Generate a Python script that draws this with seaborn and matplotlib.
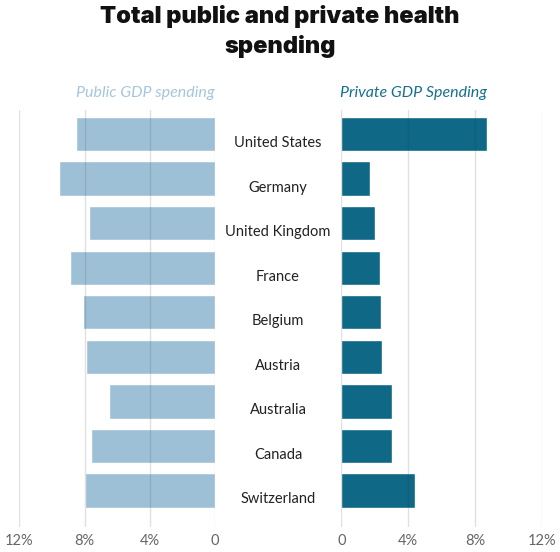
import matplotlib
matplotlib.use("Agg")
import matplotlib.pyplot as plt
import matplotlib.transforms as mtransforms
import seaborn as sns
import pandas as pd

countries = ["United States", "Germany", "United Kingdom", "France", "Belgium",
             "Austria", "Australia", "Canada", "Switzerland"]
public_gdp = [8.5, 9.6, 7.7, 8.9, 8.1, 7.9, 6.5, 7.6, 8.0]
private_gdp = [8.7, 1.7, 2.0, 2.3, 2.4, 2.45, 3.05, 3.05, 4.4]
ticks = [0, 4, 8, 12]
tick_labels = ["0", "4%", "8%", "12%"]

df = pd.DataFrame({"country": countries, "public": public_gdp, "private": private_gdp})

sns.set_theme(style="white")
plt.rcParams["font.family"] = ["Lato", "DejaVu Sans"]

W, H = 560, 552
fig = plt.figure(figsize=(W / 100, H / 100), dpi=100)
fig.patch.set_facecolor("white")

def fx(px):
    return px / W

def fy(py):
    return (H - py) / H

top, bottom = 110, 527
ax_l = fig.add_axes([fx(19.4), fy(bottom), fx(215 - 19.4), (bottom - top) / H])
ax_r = fig.add_axes([fx(341.3), fy(bottom), fx(541.7 - 341.3), (bottom - top) / H])

pub_color = "#9ec0d6"
priv_color = "#0e6886"

sns.barplot(data=df, y="country", x="public", ax=ax_l, color=pub_color,
            orient="h", width=0.77, saturation=1, zorder=1)
sns.barplot(data=df, y="country", x="private", ax=ax_r, color=priv_color,
            orient="h", width=0.77, saturation=1, zorder=1)

for ax, inv in ((ax_l, True), (ax_r, False)):
    ax.set_xlim(12, 0) if inv else ax.set_xlim(0, 12)
    ax.set_ylim(8.82, -0.54)
    for t in ticks:
        ax.axvline(t, color="#333333", alpha=0.15, lw=1, zorder=3)
    ax.set_xticks(ticks)
    ax.set_xticklabels(tick_labels)
    ax.set_yticks([])
    ax.set_xlabel("")
    ax.set_ylabel("")
    for s in ax.spines.values():
        s.set_visible(False)
    ax.tick_params(axis="x", length=0, pad=5, labelsize=10.5, labelcolor="#666666")
    ax.set_facecolor("none")

trans = mtransforms.blended_transform_factory(fig.transFigure, ax_l.transData)
for i, c in enumerate(countries):
    ax_l.text(fx(278), i + 0.2, c, transform=trans, ha="center", va="center",
              fontsize=10.5, color="#222222", clip_on=False)

fig.text(fx(145), fy(93), "Public GDP spending", ha="center", va="center",
         fontsize=11.5, style="italic", color="#a6c6dc")
fig.text(fx(413), fy(93), "Private GDP Spending", ha="center", va="center",
         fontsize=11.5, style="italic", color="#16708e")

title_font = ["Inter", "Lato", "DejaVu Sans"]
fig.text(0.5, fy(17), "Total public and private health", ha="center", va="center",
         fontsize=17, fontweight="black", color="#111111", family=title_font)
fig.text(0.5, fy(46), "spending", ha="center", va="center",
         fontsize=17, fontweight="black", color="#111111", family=title_font)

fig.savefig("out.png", dpi=100, facecolor="white")
